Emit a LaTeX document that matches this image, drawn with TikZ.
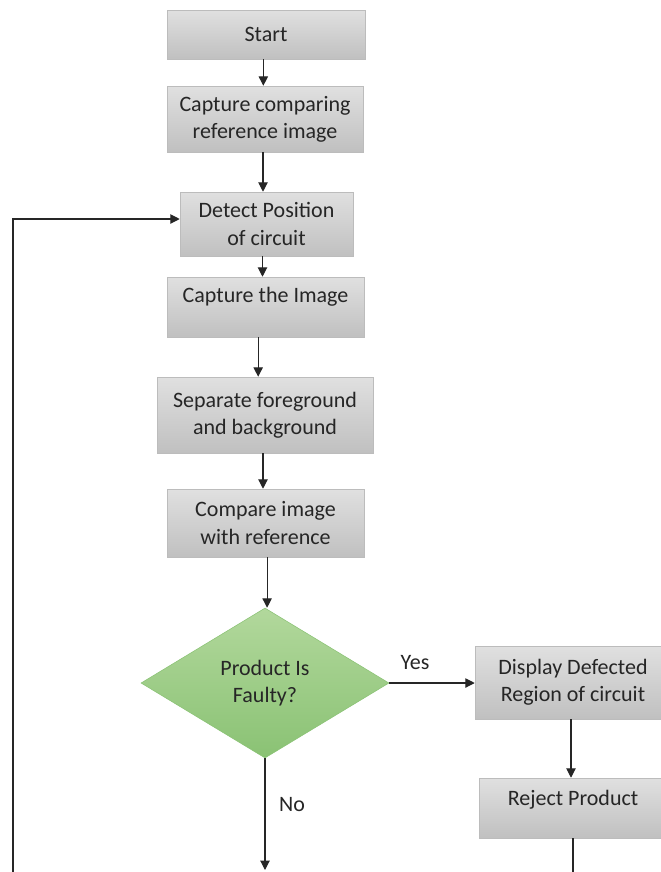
\documentclass[tikz,border=0pt]{standalone}
\usepackage{fontspec}
\setmainfont{Carlito}
\usetikzlibrary{shapes.geometric,arrows.meta}

\definecolor{boxtop}{RGB}{224, 224, 224}
\definecolor{boxbot}{RGB}{192, 192, 192}
\definecolor{boxline}{RGB}{188, 188, 188}
\definecolor{dmdtop}{RGB}{178, 216, 156}
\definecolor{dmdbot}{RGB}{138, 194, 116}
\definecolor{ink}{RGB}{38, 38, 38}

\tikzset{
  stepbox/.style={rectangle, draw=boxline, top color=boxtop, bottom color=boxbot, align=center, text=ink, inner sep=2pt},
  decide/.style={diamond, draw=dmdbot, top color=dmdtop, bottom color=dmdbot, align=center, text=ink, inner sep=0pt},
  flow/.style={draw=ink, line width=0.8pt, -{Triangle[length=7pt, width=7pt]}},
  plain/.style={draw=ink, line width=0.8pt}
}

\begin{document}
\begin{tikzpicture}[x=0.75pt, y=-0.75pt, font=\fontsize{16.5}{20.5}\selectfont]
  \useasboundingbox (0, 0) rectangle (661, 872);
  \clip (0, 0) rectangle (661, 872);

  \coordinate (loopfoot) at (13, 880);
  \coordinate (nofoot) at (267, 870);
  \coordinate (rejfoot) at (573, 880);

  \node[stepbox, minimum width=148.5pt, minimum height=36.75pt] (start) at (266, 34.5) {Start};
  \node[stepbox, minimum width=147pt, minimum height=49.5pt] (capref) at (265, 119) {Capture comparing\\reference image};
  \node[stepbox, minimum width=129.75pt, minimum height=48pt] (detect) at (266.5, 224) {Detect Position\\of circuit};
  \node[stepbox, minimum width=147.75pt, minimum height=45pt, text depth=18pt] (capimg) at (265.5, 307) {Capture the Image};
  \node[stepbox, minimum width=162pt, minimum height=57pt] (separate) at (265, 415) {Separate foreground\\and background};
  \node[stepbox, minimum width=147.75pt, minimum height=51pt] (compare) at (265.5, 523) {Compare image\\with reference};
  \node[decide, minimum width=186pt, minimum height=112.5pt] (faulty) at (265, 683) {Product Is\\Faulty?};
  \node[stepbox, minimum width=147pt, minimum height=54.75pt] (display) at (573, 682.5) {Display Defected\\Region of circuit};
  \node[stepbox, minimum width=141pt, minimum height=45pt, text depth=14.5pt] (reject) at (573, 808) {Reject Product};

  \node[text=ink] (yes) at (415, 663) {Yes};
  \node[text=ink] (no) at (292, 805) {No};

  \draw[flow] ([xshift=-2pt]start.south) -- ([xshift=-2pt]start.south |- capref.north);
  \draw[flow] ([xshift=-1.5pt]capref.south) -- ([xshift=-1.5pt]capref.south |- detect.north);
  \draw[flow] ([xshift=-3pt]detect.south) -- ([xshift=-3pt]detect.south |- capimg.north);
  \draw[flow] ([xshift=-5.5pt]capimg.south) -- ([xshift=-5.5pt]capimg.south |- separate.north);
  \draw[flow] ([xshift=-1.5pt]separate.south) -- ([xshift=-1.5pt]separate.south |- compare.north);
  \draw[flow] ([xshift=1.2pt]compare.south) -- ([xshift=1.2pt]compare.south |- faulty.north);
  \draw[flow] (faulty.east) -- (faulty.east -| display.west);
  \draw[flow] ([xshift=-1.5pt]display.south) -- ([xshift=-1.5pt]display.south |- reject.north);
  \draw[flow] (faulty.south) -- (faulty.south |- nofoot);
  \draw[plain] (reject.south) -- (reject.south |- rejfoot);
  \draw[flow] (loopfoot) |- ([yshift=3.75pt]detect.west);
\end{tikzpicture}
\end{document}
